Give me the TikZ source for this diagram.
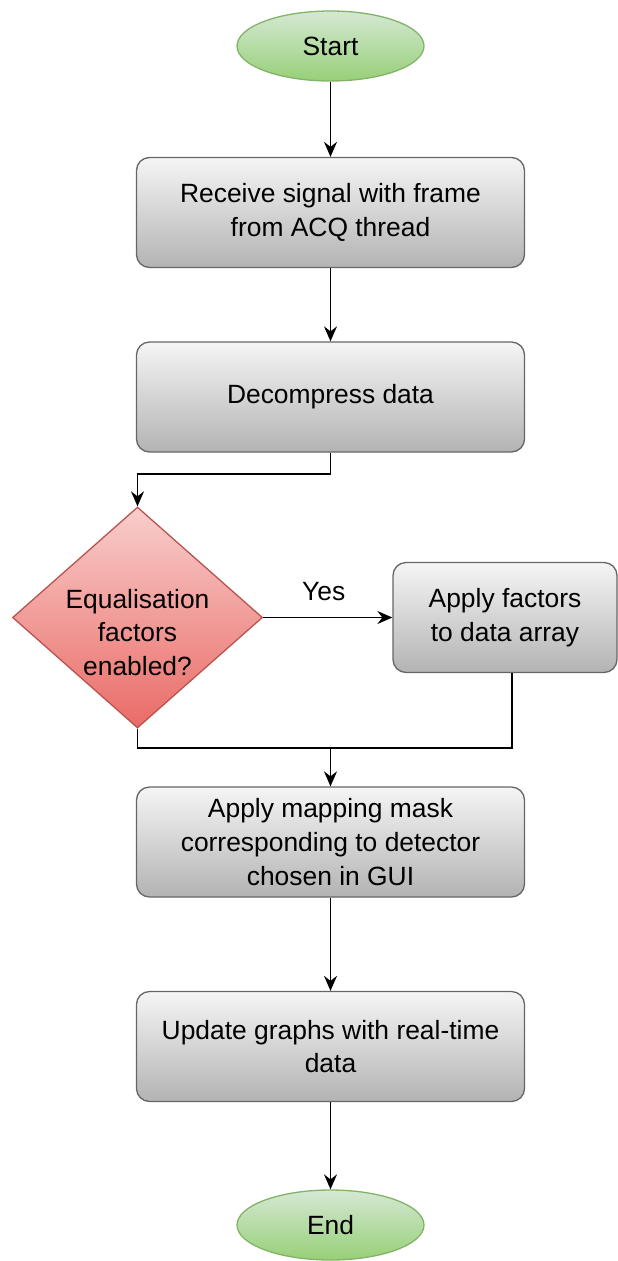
\documentclass[tikz,border=0pt]{standalone}
\usepackage{fontspec}
\setmainfont{Liberation Sans}
\usetikzlibrary{shapes.geometric,arrows.meta}
\definecolor{grayTop}{HTML}{F5F5F5}
\definecolor{grayBot}{HTML}{B3B3B3}
\definecolor{grayLine}{HTML}{666666}
\definecolor{greenTop}{HTML}{D5E8D4}
\definecolor{greenBot}{HTML}{97D077}
\definecolor{greenLine}{HTML}{82B366}
\definecolor{redTop}{HTML}{F8CECC}
\definecolor{redBot}{HTML}{EA6B66}
\definecolor{redLine}{HTML}{B85450}
\tikzset{
  base/.style={font=\fontsize{26.5}{34}\selectfont, align=center, inner sep=0pt, line width=1.3bp},
  procbox/.style={base, rectangle, rounded corners=13bp, draw=grayLine, top color=grayTop, bottom color=grayBot, minimum width=388bp, minimum height=110bp},
  smallbox/.style={procbox, minimum width=224bp},
  term/.style={base, ellipse, draw=greenLine, top color=greenTop, bottom color=greenBot, minimum width=187bp, minimum height=70bp},
  decis/.style={base, diamond, draw=redLine, top color=redTop, bottom color=redBot, minimum width=250bp, minimum height=221bp},
  conn/.style={line width=1.5bp, black},
  arr/.style={conn, -{Stealth[length=15bp,width=13bp,inset=5bp]}},
  lbl/.style={font=\fontsize{26.5}{34}\selectfont, inner sep=0pt}
}
\begin{document}
\begin{tikzpicture}[x=1bp,y=-1bp]
\useasboundingbox (0,0) rectangle (618,1261);
\node[term] (start) at (330.5,46) {Start};
\node[procbox] (b1) at (330.5,212.5) {Receive signal with frame\\from ACQ thread};
\node[procbox] (b2) at (330.5,397) {Decompress data};
\node[decis, label={[base, yshift=-15bp]center:Equalisation\\factors\\enabled?}] (dec) at (137.5,617.5) {};
\node[smallbox] (b3) at (505,617.5) {Apply factors\\to data array};
\node[procbox] (b4) at (330.5,842) {Apply mapping mask\\corresponding to detector\\chosen in GUI};
\node[procbox] (b5) at (330.5,1046.5) {Update graphs with real-time\\data};
\node[term] (end) at (330.5,1225) {End};
\coordinate (split) at (330.5,474);
\coordinate (merge) at (330.5,748);

\draw[arr] (start) -- (b1);
\draw[arr] (b1) -- (b2);
\draw[conn] (b2.south) -- (split);
\draw[arr] (split) -| (dec.north);
\draw[arr] (dec.east) -- node[lbl, above=16bp, xshift=-4bp] (yes) {Yes} (b3.west);
\draw[conn] (dec.south) |- (merge);
\draw[conn] (b3.south -| 512,0) |- (merge);
\draw[arr] (merge) -- (b4.north);
\draw[arr] (b4) -- (b5);
\draw[arr] (b5) -- (end);
\end{tikzpicture}
\end{document}
